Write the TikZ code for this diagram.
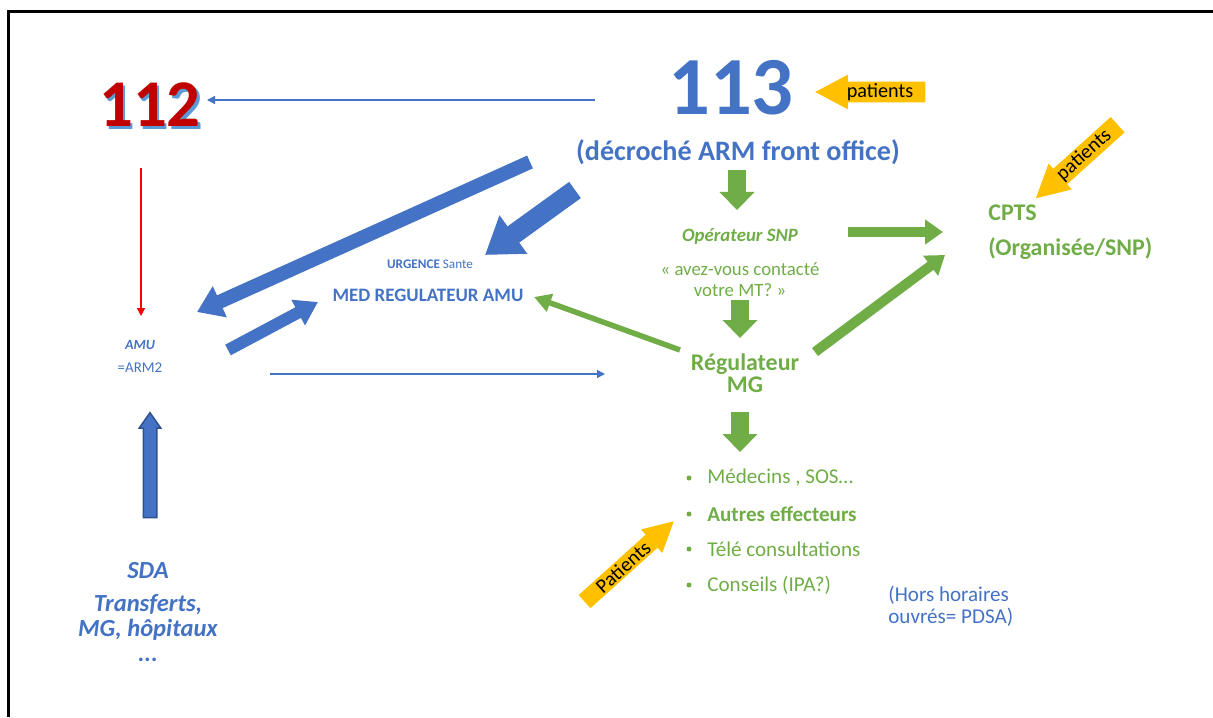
\documentclass[tikz,border=0pt]{standalone}
\usepackage{fontspec}
\setmainfont{Carlito}
\usetikzlibrary{arrows.meta,shapes.arrows}
\definecolor{amublue}{RGB}{68,114,196}
\definecolor{snpgreen}{RGB}{112,173,71}
\definecolor{patorange}{RGB}{255,192,0}
\definecolor{numred}{RGB}{192,0,0}
\definecolor{shadowblue}{RGB}{91,155,213}
\definecolor{edgeblue}{RGB}{47,82,143}
\tikzset{
  every node/.style={inner sep=0pt},
  bluelbl/.style={text=amublue},
  greenlbl/.style={text=snpgreen},
  bullet/.style={circle, fill=snpgreen, minimum size=1mm},
  patients/.style={single arrow, fill=patorange, text=black,
    font=\fontsize{11.5}{12}\selectfont, inner xsep=2pt, inner ysep=0.8pt,
    single arrow tip angle=56, single arrow head extend=1.4mm,
    single arrow head indent=0pt},
  greenthick/.style={draw=snpgreen, line width=3.6mm,
    -{Triangle[length=3.6mm,width=6.8mm]}},
  greenmid/.style={draw=snpgreen, line width=2mm,
    -{Triangle[length=3.6mm,width=4.8mm]}},
  greenthin/.style={draw=snpgreen, line width=1.1mm,
    -{Triangle[length=3.4mm,width=3.6mm]}},
  bluearrow/.style n args={3}{draw=amublue, line width=#1,
    -{Triangle[length=#2,width=#3]}},
  thinarrow/.style={line width=0.3mm, -{Triangle[length=1.6mm,width=1.6mm]}}
}
\begin{document}
\begin{tikzpicture}[x=0.2mm,y=-0.2mm]
  \useasboundingbox (0,0) rectangle (1213,717);
  \draw[line width=0.6mm] (8,717) -- (8,12) -- (1213,12);

  \node[text=shadowblue, font=\bfseries\fontsize{38}{38}\selectfont] (n112s) at (152.5,107.5) {112};
  \node[text=numred, font=\bfseries\fontsize{38}{38}\selectfont] (n112) at (150,105) {112};
  \node[bluelbl, font=\bfseries\fontsize{47}{47}\selectfont] (n113) at (731,88) {113};
  \node[bluelbl, font=\bfseries\fontsize{16}{18}\selectfont] (decroche) at (738,152) {(décroché ARM front office)};
  \node[greenlbl, font=\bfseries\itshape\fontsize{10.7}{12}\selectfont] (operateur) at (740,236) {Opérateur SNP};
  \node[greenlbl, align=center, font=\fontsize{10.7}{12}\selectfont] (contact) at (740,280) {« avez-vous contacté\\votre MT? »};
  \node[greenlbl, align=center, font=\bfseries\fontsize{13.6}{12.5}\selectfont] (regulateur) at (745,373) {Régulateur\\MG};
  \node[greenlbl, anchor=west, font=\bfseries\fontsize{13.6}{15}\selectfont] (cpts) at (988,213) {CPTS};
  \node[greenlbl, anchor=west, font=\bfseries\fontsize{13.6}{15}\selectfont] (organisee) at (988,249) {(Organisée/SNP)};
  \node[bluelbl, font=\fontsize{7.5}{9}\selectfont] (urgence) at (430,264) {\textbf{URGENCE} Sante};
  \node[bluelbl, font=\bfseries\fontsize{10.8}{12}\selectfont] (medreg) at (428,295) {MED REGULATEUR AMU};
  \node[bluelbl, font=\bfseries\itshape\fontsize{8}{10}\selectfont] (amu) at (140,345) {AMU};
  \node[bluelbl, font=\fontsize{8.5}{10}\selectfont] (arm2) at (140,368) {=ARM2};
  \node[bluelbl, font=\bfseries\itshape\fontsize{14}{15}\selectfont] (sda) at (148,571) {SDA};
  \node[bluelbl, align=center, font=\bfseries\itshape\fontsize{14}{14}\selectfont] (transferts) at (148,628) {Transferts,\\MG, hôpitaux\\...};
  \node[bluelbl, anchor=west, align=left, font=\fontsize{12}{12.5}\selectfont] (hors) at (888,606) {(Hors horaires\\ouvrés= PDSA)};

  \node[bullet] (b1) at (689,478) {};
  \node[bullet] (b2) at (689,514) {};
  \node[bullet] (b3) at (689,549) {};
  \node[bullet] (b4) at (689,585) {};
  \node[greenlbl, anchor=west, font=\fontsize{12}{13}\selectfont] (m1) at (707,478) {Médecins , SOS…};
  \node[greenlbl, anchor=west, font=\bfseries\fontsize{12}{13}\selectfont] (m2) at (707,514) {Autres effecteurs};
  \node[greenlbl, anchor=west, font=\fontsize{12}{13}\selectfont] (m3) at (707,549) {Télé consultations};
  \node[greenlbl, anchor=west, font=\fontsize{12}{13}\selectfont] (m4) at (707,585) {Conseils (IPA?)};

  \node[patients, shape border rotate=180, minimum height=22mm] (pat113) at (880,92) {patients};
  \node[patients, rotate=42, shape border rotate=180, minimum height=22mm] (patcpts) at (1084,155) {patients};
  \node[patients, rotate=42, minimum height=24mm] (patmed) at (623,567) {Patients};
  \node[single arrow, rotate=90, fill=amublue, draw=edgeblue, line width=0.3mm,
    inner xsep=0pt, inner ysep=1.2mm, minimum height=21mm,
    single arrow head extend=0.8mm, single arrow tip angle=70,
    single arrow head indent=0pt] (sdaup) at (150,470) {};

  \coordinate (to112) at (207,100);
  \coordinate (from113) at (595,100);
  \coordinate (redtop) at (141,168);
  \coordinate (redbot) at (141,316);
  \coordinate (amuright) at (270,374);
  \coordinate (regleft) at (605,374);
  \coordinate (bA1) at (530,162);
  \coordinate (bA2) at (197,312);
  \coordinate (bB1) at (575,190);
  \coordinate (bB2) at (485,255);
  \coordinate (bC1) at (228,350);
  \coordinate (bC2) at (318,302);
  \coordinate (g1a) at (737,170);
  \coordinate (g1b) at (737,210);
  \coordinate (g2a) at (740,300);
  \coordinate (g2b) at (740,338);
  \coordinate (g3a) at (740,412);
  \coordinate (g3b) at (740,452);
  \coordinate (gh1) at (848,232);
  \coordinate (gh2) at (943,232);
  \coordinate (gd1) at (815,352);
  \coordinate (gd2) at (945,255);
  \coordinate (gm1) at (680,350);
  \coordinate (gm2) at (534,297);

  \begin{scope}
    \draw[thinarrow, draw=amublue] (from113) -- (to112);
    \draw[thinarrow, draw=red] (redtop) -- (redbot);
    \draw[thinarrow, draw=amublue, line width=0.25mm] (amuright) -- (regleft);
    \draw[bluearrow={2.8mm}{5mm}{6.5mm}] (bA1) -- (bA2);
    \draw[bluearrow={4mm}{7mm}{9mm}] (bB1) -- (bB2);
    \draw[bluearrow={2.4mm}{4.5mm}{5.5mm}] (bC1) -- (bC2);
    \draw[greenthick] (g1a) -- (g1b);
    \draw[greenthick] (g2a) -- (g2b);
    \draw[greenthick] (g3a) -- (g3b);
    \draw[greenmid] (gh1) -- (gh2);
    \draw[greenmid] (gd1) -- (gd2);
    \draw[greenthin] (gm1) -- (gm2);
  \end{scope}
\end{tikzpicture}
\end{document}
